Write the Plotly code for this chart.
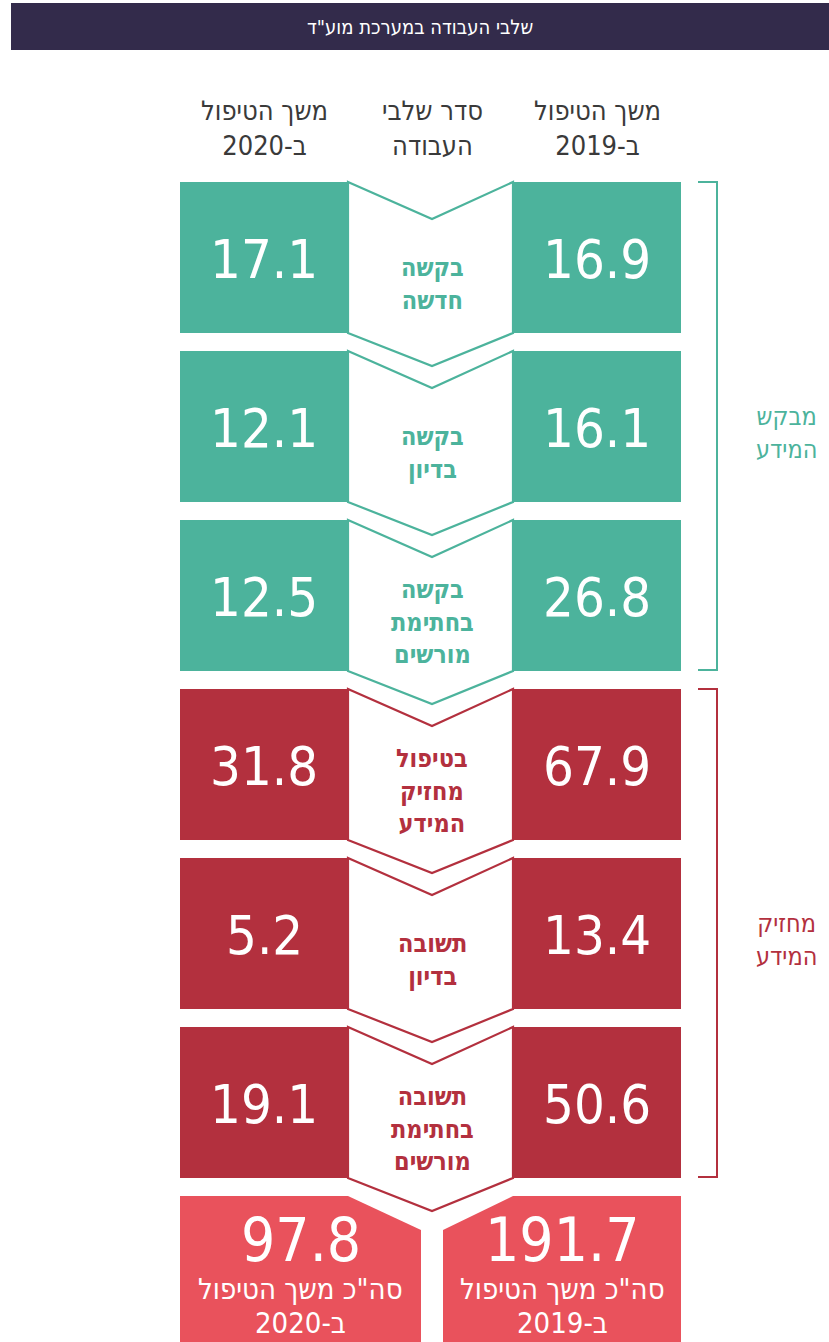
import plotly.graph_objects as go

# ---------------- data ----------------
stages = ["בקשה\nחדשה", "בקשה\nבדיון", "בקשה\nבחתימת\nמורשים",
          "בטיפול\nמחזיק\nהמידע", "תשובה\nבדיון", "תשובה\nבחתימת\nמורשים"]
values_2019 = [16.9, 16.1, 26.8, 67.9, 13.4, 50.6]
values_2020 = [17.1, 12.1, 12.5, 31.8, 5.2, 19.1]
stage_group = [0, 0, 0, 1, 1, 1]
group_labels = ["מבקש\nהמידע", "מחזיק\nהמידע"]
years = ["2019", "2020"]
title_text = 'שלבי העבודה במערכת מוע"ד'
header_duration = "משך הטיפול"
header_order = "סדר שלבי\nהעבודה"
total_label = 'סה"כ משך הטיפול'

# ---------------- style / layout constants ----------------
W, H = 829, 1342
GREEN = "#4cb39c"
RED = "#b3303e"
CORAL = "#e9525c"
NAVY = "#332b4b"
DARK = "#3a3a3a"
group_colors = [GREEN, RED]

NUM_FONT = "DejaVu Sans Condensed, Liberation Sans, sans-serif"
HEB_FONT = "DejaVu Sans Condensed, Liberation Sans, sans-serif"

LEFT_X0, LEFT_X1 = 180, 348
RIGHT_X0, RIGHT_X1 = 513, 681
MID_X = 432
ROW_TOP0, ROW_PITCH, BOX_H = 182, 169, 151
NOTCH_TOP, NOTCH_BOT = 37, 33
BR_X, BR_TICK = 717, 19


def br(s):
    return s.replace("\n", "<br>")


def fmt(v):
    return f"{v:.1f}"


fig = go.Figure()
fig.add_trace(go.Scatter(x=[0, W], y=[0, H], mode="markers",
                         marker=dict(opacity=0), hoverinfo="skip", showlegend=False))

shapes = []
ann = []

# title bar
shapes.append(dict(type="rect", xref="x", yref="y", x0=11, x1=W + 2, y0=3, y1=50,
                   fillcolor=NAVY, line=dict(width=0), layer="above"))
ann.append(dict(x=(11 + W) / 2, y=27, text=title_text, showarrow=False,
                font=dict(family=HEB_FONT, size=20, color="white")))

# headers
left_c = (LEFT_X0 + LEFT_X1) / 2
right_c = (RIGHT_X0 + RIGHT_X1) / 2
hdr_font = dict(family=HEB_FONT, size=27, color=DARK)
ann.append(dict(x=right_c, y=128, text=f"{header_duration}<br>ב-{years[0]}", showarrow=False,
                font=hdr_font))
ann.append(dict(x=MID_X, y=128, text=br(header_order), showarrow=False, font=hdr_font))
ann.append(dict(x=left_c, y=128, text=f"{header_duration}<br>ב-{years[1]}", showarrow=False,
                font=hdr_font))

# rows
for i, (st, v19, v20, g) in enumerate(zip(stages, values_2019, values_2020, stage_group)):
    top = ROW_TOP0 + i * ROW_PITCH
    bot = top + BOX_H
    col = group_colors[g]
    path = (f"M {LEFT_X1},{top} L {MID_X},{top + NOTCH_TOP} L {RIGHT_X0},{top} "
            f"L {RIGHT_X0},{bot} L {MID_X},{bot + NOTCH_BOT} L {LEFT_X1},{bot} Z")
    shapes.append(dict(type="path", xref="x", yref="y", path=path, fillcolor="white",
                       line=dict(color=col, width=2.2), layer="above"))
    shapes.append(dict(type="rect", xref="x", yref="y", x0=LEFT_X0, x1=LEFT_X1, y0=top, y1=bot,
                       fillcolor=col, line=dict(width=0), layer="above"))
    shapes.append(dict(type="rect", xref="x", yref="y", x0=RIGHT_X0, x1=RIGHT_X1, y0=top, y1=bot,
                       fillcolor=col, line=dict(width=0), layer="above"))
    cy = (top + bot) / 2
    ann.append(dict(x=left_c, y=cy + 2, text=fmt(v20), showarrow=False,
                    font=dict(family=NUM_FONT, size=54, color="white")))
    ann.append(dict(x=right_c, y=cy + 2, text=fmt(v19), showarrow=False,
                    font=dict(family=NUM_FONT, size=54, color="white")))
    ann.append(dict(x=MID_X, y=top + 102, text=f"<b>{br(st)}</b>", showarrow=False,
                    font=dict(family=HEB_FONT, size=25, color=col)))

# brackets
for g, lab in enumerate(group_labels):
    idx = [i for i, gg in enumerate(stage_group) if gg == g]
    y0 = ROW_TOP0 + idx[0] * ROW_PITCH
    y1 = ROW_TOP0 + idx[-1] * ROW_PITCH + BOX_H - 1
    col = group_colors[g]
    shapes.append(dict(type="path", xref="x", yref="y",
                       path=f"M {BR_X - BR_TICK},{y0} L {BR_X},{y0} L {BR_X},{y1} L {BR_X - BR_TICK},{y1}",
                       line=dict(color=col, width=2), layer="above"))
    ann.append(dict(x=786, y=(y0 + y1) / 2 + 7, text=br(lab), showarrow=False,
                    font=dict(family=HEB_FONT, size=25, color=col)))

# totals
total_2019 = round(sum(values_2019), 1)
total_2020 = round(sum(values_2020), 1)
last_bot = ROW_TOP0 + (len(stages) - 1) * ROW_PITCH + BOX_H
bt = last_bot + 18
bs = bt + 34
gap = 11
left_path = (f"M {LEFT_X0},{bt} L {LEFT_X1},{bt} L {MID_X - gap},{bs} "
             f"L {MID_X - gap},{H + 10} L {LEFT_X0},{H + 10} Z")
right_path = (f"M {MID_X + gap},{bs} L {RIGHT_X0},{bt} L {RIGHT_X1},{bt} "
              f"L {RIGHT_X1},{H + 10} L {MID_X + gap},{H + 10} Z")
for p in (left_path, right_path):
    shapes.append(dict(type="path", xref="x", yref="y", path=p, fillcolor=CORAL,
                       line=dict(width=0), layer="above"))

lbx = (LEFT_X0 + MID_X - gap) / 2
rbx = (MID_X + gap + RIGHT_X1) / 2
for xc, tot, yr in ((rbx, total_2019, years[0]), (lbx, total_2020, years[1])):
    ann.append(dict(x=xc, y=1240, text=fmt(tot), showarrow=False,
                    font=dict(family=NUM_FONT, size=60, color="white")))
    ann.append(dict(x=xc, y=1289, text=total_label, showarrow=False,
                    font=dict(family=HEB_FONT, size=29, color="white")))
    ann.append(dict(x=xc, y=1323, text=f"ב-{yr}", showarrow=False,
                    font=dict(family=HEB_FONT, size=29, color="white")))

fig.update_layout(
    width=W, height=H,
    margin=dict(l=0, r=0, t=0, b=0),
    paper_bgcolor="white", plot_bgcolor="white",
    xaxis=dict(range=[0, W], visible=False, fixedrange=True),
    yaxis=dict(range=[H, 0], visible=False, fixedrange=True),
    shapes=shapes, annotations=ann, showlegend=False,
)

fig.write_html("out.html", config={"displayModeBar": False},
               post_script="document.body.style.margin='0';document.body.style.overflow='hidden';")
